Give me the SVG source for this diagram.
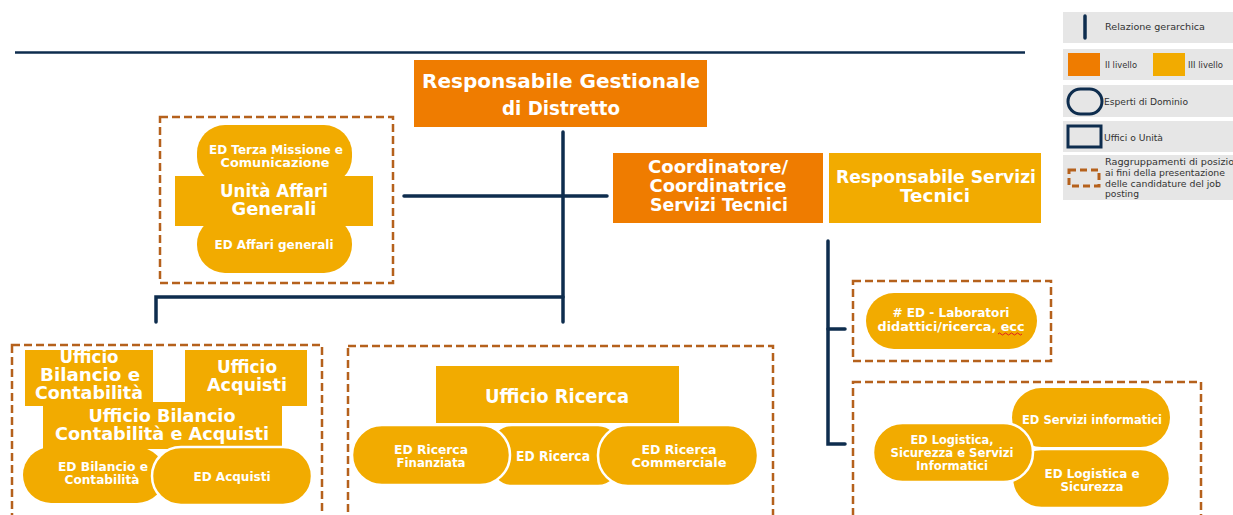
<svg xmlns="http://www.w3.org/2000/svg" width="1233" height="515" viewBox="0 0 1233 515">
<style>
.t{font-family:"DejaVu Sans","Liberation Sans",sans-serif;font-weight:bold;fill:#fff;text-anchor:middle}
.s{font-size:11.5px}
.lg{font-family:"DejaVu Sans","Liberation Sans",sans-serif;fill:#333;font-size:8.5px}
.or{fill:#EF7C00}
.ye{fill:#F2AB00}
.yw{fill:#F2AB00;stroke:#fff;stroke-width:2.5}
.grp{fill:none;stroke:#B5611C;stroke-width:2.5;stroke-dasharray:8 4}
.cn{fill:none;stroke:#0E2D4E;stroke-width:3.5;stroke-linecap:round}
.lb{fill:#E6E6E6}
</style>
<rect width="1233" height="515" fill="#fff"/>
<line x1="15" y1="52.5" x2="1025" y2="52.5" stroke="#0E2D4E" stroke-width="2.5"/>

<g id="legend">
<rect class="lb" x="1063" y="12" width="170" height="31"/>
<line x1="1085" y1="16" x2="1085" y2="38" stroke="#0E2D4E" stroke-width="3.5" stroke-linecap="round"/>
<text class="lg" x="1105" y="30" textLength="100" lengthAdjust="spacingAndGlyphs">Relazione gerarchica</text>
<rect class="lb" x="1063" y="49" width="170" height="31"/>
<rect class="or" x="1068" y="53" width="32" height="23"/>
<text class="lg" x="1105" y="68" textLength="32" lengthAdjust="spacingAndGlyphs">II livello</text>
<rect class="ye" x="1153" y="53" width="32" height="23"/>
<text class="lg" x="1188" y="68" textLength="35" lengthAdjust="spacingAndGlyphs">III livello</text>
<rect class="lb" x="1063" y="85" width="170" height="32"/>
<rect x="1068" y="89" width="34" height="25" rx="12.5" fill="none" stroke="#0E2D4E" stroke-width="3"/>
<text class="lg" x="1104" y="105" textLength="84" lengthAdjust="spacingAndGlyphs">Esperti di Dominio</text>
<rect class="lb" x="1063" y="121" width="170" height="31"/>
<rect x="1068" y="126" width="33" height="21" fill="none" stroke="#0E2D4E" stroke-width="3"/>
<text class="lg" x="1104" y="141" textLength="59" lengthAdjust="spacingAndGlyphs">Uffici o Unità</text>
<rect class="lb" x="1063" y="155" width="170" height="45"/>
<rect x="1069" y="170" width="30" height="16" fill="none" stroke="#B5611C" stroke-width="3" stroke-dasharray="7 4"/>
<text class="lg" x="1105" y="165" textLength="138" lengthAdjust="spacingAndGlyphs">Raggruppamenti di posizioni</text>
<text class="lg" x="1105" y="176" textLength="120" lengthAdjust="spacingAndGlyphs">ai fini della presentazione</text>
<text class="lg" x="1105" y="187" textLength="116" lengthAdjust="spacingAndGlyphs">delle candidature del job</text>
<text class="lg" x="1105" y="197" textLength="34" lengthAdjust="spacingAndGlyphs">posting</text>
</g>

<g id="connectors">
<line class="cn" x1="563" y1="132" x2="563" y2="322"/>
<line class="cn" x1="404" y1="196" x2="607" y2="196"/>
<polyline class="cn" points="156,322 156,297 563,297"/>
<polyline class="cn" points="828,241 828,444 845,444"/>
<line class="cn" x1="828" y1="329" x2="845" y2="329"/>
</g>

<g id="responsabile-gestionale">
<rect class="or" x="414" y="60" width="293" height="67"/>
<text class="t" x="561" y="88" font-size="20" textLength="278" lengthAdjust="spacingAndGlyphs">Responsabile Gestionale</text>
<text class="t" x="561" y="115" font-size="20" textLength="118" lengthAdjust="spacingAndGlyphs">di Distretto</text>
</g>

<g id="coordinatore">
<rect class="or" x="613" y="153" width="210" height="70"/>
<text class="t" x="718" y="173" font-size="17.5" textLength="140" lengthAdjust="spacingAndGlyphs">Coordinatore/</text>
<text class="t" x="718" y="192" font-size="17.5" textLength="137" lengthAdjust="spacingAndGlyphs">Coordinatrice</text>
<text class="t" x="719" y="211" font-size="17.5" textLength="138" lengthAdjust="spacingAndGlyphs">Servizi Tecnici</text>
</g>

<g id="responsabile-servizi-tecnici">
<rect class="ye" x="829" y="153" width="212" height="70"/>
<text class="t" x="936" y="183" font-size="18" textLength="200" lengthAdjust="spacingAndGlyphs">Responsabile Servizi</text>
<text class="t" x="935" y="202" font-size="18" textLength="70" lengthAdjust="spacingAndGlyphs">Tecnici</text>
</g>

<g id="gruppo-affari-generali">
<rect class="grp" x="160" y="117" width="233" height="166"/>
<rect class="ye" x="197" y="125" width="155" height="60" rx="28"/>
<rect class="ye" x="197" y="216" width="155" height="57" rx="28"/>
<rect class="ye" x="175" y="176" width="198" height="50"/>
<text class="t s" x="276" y="154" textLength="134" lengthAdjust="spacingAndGlyphs">ED Terza Missione e</text>
<text class="t s" x="275" y="167" textLength="109" lengthAdjust="spacingAndGlyphs">Comunicazione</text>
<text class="t" x="274" y="197" font-size="17" textLength="108" lengthAdjust="spacingAndGlyphs">Unità Affari</text>
<text class="t" x="274" y="215" font-size="17" textLength="85" lengthAdjust="spacingAndGlyphs">Generali</text>
<text class="t" x="274" y="249" font-size="13" textLength="119" lengthAdjust="spacingAndGlyphs">ED Affari generali</text>
</g>

<g id="gruppo-bilancio-acquisti">
<rect class="grp" x="12" y="345" width="310" height="180"/>
<rect class="ye" x="25" y="350" width="128" height="56"/>
<rect class="ye" x="185" y="350" width="122" height="56"/>
<rect class="ye" x="43" y="402" width="239" height="47"/>
<rect class="ye" x="23" y="447" width="142" height="56" rx="28"/>
<rect class="yw" x="152" y="447" width="160" height="58" rx="29"/>
<text class="t" x="89" y="363" font-size="17" textLength="59" lengthAdjust="spacingAndGlyphs">Ufficio</text>
<text class="t" x="90" y="381" font-size="17" textLength="100" lengthAdjust="spacingAndGlyphs">Bilancio e</text>
<text class="t" x="89" y="399" font-size="17" textLength="108" lengthAdjust="spacingAndGlyphs">Contabilità</text>
<text class="t" x="247" y="373" font-size="17" textLength="60" lengthAdjust="spacingAndGlyphs">Ufficio</text>
<text class="t" x="247" y="391" font-size="17" textLength="80" lengthAdjust="spacingAndGlyphs">Acquisti</text>
<text class="t" x="162" y="422" font-size="17" textLength="147" lengthAdjust="spacingAndGlyphs">Ufficio Bilancio</text>
<text class="t" x="162" y="440" font-size="17" textLength="214" lengthAdjust="spacingAndGlyphs">Contabilità e Acquisti</text>
<text class="t s" x="103" y="471" textLength="90" lengthAdjust="spacingAndGlyphs">ED Bilancio e</text>
<text class="t s" x="102" y="484" textLength="75" lengthAdjust="spacingAndGlyphs">Contabilità</text>
<text class="t" x="232" y="481" font-size="13" textLength="77" lengthAdjust="spacingAndGlyphs">ED Acquisti</text>
</g>

<g id="gruppo-ricerca">
<rect class="grp" x="348" y="346" width="425" height="180"/>
<rect class="ye" x="436" y="366" width="243" height="57"/>
<rect class="yw" x="490" y="425" width="130" height="61" rx="22"/>
<rect class="yw" x="352" y="425" width="158" height="60" rx="30"/>
<rect class="yw" x="598" y="425" width="160" height="61" rx="30"/>
<text class="t" x="557" y="403" font-size="19" textLength="144" lengthAdjust="spacingAndGlyphs">Ufficio Ricerca</text>
<text class="t s" x="431" y="454" textLength="74" lengthAdjust="spacingAndGlyphs">ED Ricerca</text>
<text class="t s" x="431" y="467" textLength="69" lengthAdjust="spacingAndGlyphs">Finanziata</text>
<text class="t" x="553" y="461" font-size="14" textLength="74" lengthAdjust="spacingAndGlyphs">ED Ricerca</text>
<text class="t s" x="679" y="454" textLength="75" lengthAdjust="spacingAndGlyphs">ED Ricerca</text>
<text class="t s" x="679" y="467" textLength="95" lengthAdjust="spacingAndGlyphs">Commerciale</text>
</g>

<g id="gruppo-laboratori">
<rect class="grp" x="853" y="281" width="198" height="80"/>
<rect class="ye" x="866" y="293" width="171" height="56" rx="28"/>
<text class="t s" x="951" y="317" textLength="117" lengthAdjust="spacingAndGlyphs"># ED -  Laboratori</text>
<text class="t s" x="951" y="331" textLength="147" lengthAdjust="spacingAndGlyphs">didattici/ricerca, ecc</text>
<path d="M998,334 q1.5,-2 3,0 t3,0 t3,0 t3,0 t3,0 t3,0 t3,0 t3,0" fill="none" stroke="#E02020" stroke-width="1"/>
</g>

<g id="gruppo-logistica">
<rect class="grp" x="853" y="382" width="348" height="145"/>
<rect class="ye" x="1012" y="388" width="158" height="59" rx="29.5"/>
<rect class="yw" x="1012" y="449" width="158" height="59" rx="29.5"/>
<rect class="yw" x="873" y="423" width="160" height="59" rx="29.5"/>
<text class="t" x="1092" y="424" font-size="13" textLength="140" lengthAdjust="spacingAndGlyphs">ED Servizi informatici</text>
<text class="t s" x="1092" y="478" textLength="95" lengthAdjust="spacingAndGlyphs">ED Logistica e</text>
<text class="t s" x="1092" y="491" textLength="63" lengthAdjust="spacingAndGlyphs">Sicurezza</text>
<text class="t s" x="952" y="444" textLength="83" lengthAdjust="spacingAndGlyphs">ED Logistica,</text>
<text class="t s" x="952" y="457" textLength="123" lengthAdjust="spacingAndGlyphs">Sicurezza e Servizi</text>
<text class="t s" x="952" y="470" textLength="72" lengthAdjust="spacingAndGlyphs">Informatici</text>
</g>
</svg>
